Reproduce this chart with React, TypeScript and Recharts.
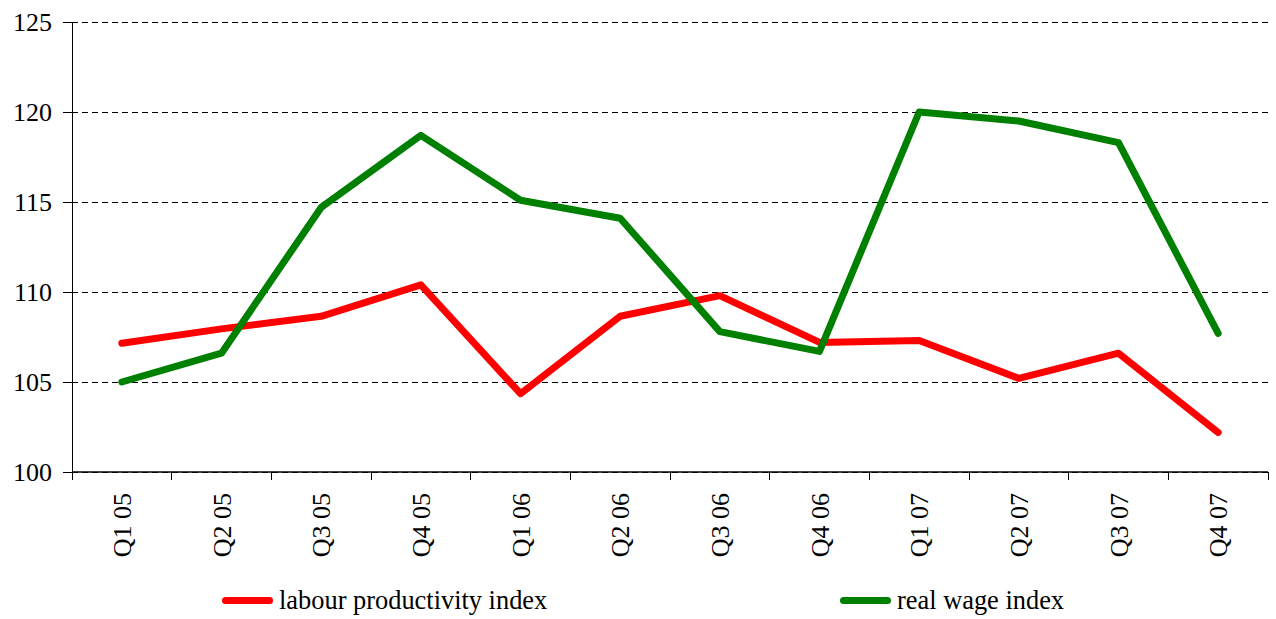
import { LineChart, Line, XAxis, YAxis, CartesianGrid, Legend } from "recharts";

const quarters = ["Q1 05", "Q2 05", "Q3 05", "Q4 05", "Q1 06", "Q2 06", "Q3 06", "Q4 06", "Q1 07", "Q2 07", "Q3 07", "Q4 07"];
const productivity = [107.15, 107.95, 108.65, 110.4, 104.35, 108.65, 109.8, 107.2, 107.3, 105.2, 106.6, 102.2];
const realWage = [105.0, 106.6, 114.7, 118.7, 115.1, 114.1, 107.8, 106.7, 120.0, 119.5, 118.3, 107.7];
const yTicks = [100, 105, 110, 115, 120, 125];

const data = quarters.map((q, i) => ({ q, prod: productivity[i], wage: realWage[i] }));

const FONT = '"Liberation Serif", "Times New Roman", serif';
const W = 1276;
const H = 619;
const BAND = (W - 72 - 8) / quarters.length;

function QuarterTick({ x, y, payload, index }: any) {
  return (
    <g>
      {index === 0 && <line x1={x - BAND / 2} x2={x - BAND / 2} y1={y} y2={y + 8} stroke="#000" shapeRendering="crispEdges" />}
      <line x1={x + BAND / 2} x2={x + BAND / 2} y1={y} y2={y + 8} stroke="#000" shapeRendering="crispEdges" />
      <text
        x={x}
        y={y + 21}
        dy="0.35em"
        textAnchor="end"
        transform={`rotate(-90, ${x}, ${y + 21})`}
        fill="#000"
        fontSize={26}
        fontFamily={FONT}
      >
        {payload.value}
      </text>
    </g>
  );
}

function ChartLegend() {
  const item = (left: number, color: string, label: string) => (
    <div style={{ position: "absolute", left, top: 25, display: "flex", alignItems: "center" }}>
      <div style={{ width: 51, height: 7, borderRadius: 4, background: color, marginRight: 6 }} />
      <span style={{ fontSize: 26.4, fontFamily: FONT, color: "#000", lineHeight: "26px" }}>{label}</span>
    </div>
  );
  return (
    <div style={{ position: "relative", width: W, height: 57 }}>
      {item(222, "#ff0000", "labour productivity index")}
      {item(840, "#008000", "real wage index")}
    </div>
  );
}

export default function App() {
  return (
    <div style={{ position: "fixed", left: 0, top: 0, background: "#fff" }}>
      <LineChart width={W} height={H} data={data} margin={{ top: 22, right: 8, left: 0, bottom: 0 }} style={{ fontFamily: FONT }}>
        <CartesianGrid horizontal vertical={false} stroke="#000" strokeDasharray="6 4" shapeRendering="crispEdges" />
        <XAxis
          dataKey="q"
          scale="band"
          height={90}
          interval={0}
          tickLine={false}
          tickSize={0}
          tickMargin={0}
          axisLine={{ stroke: "#000", strokeWidth: 1.5 }}
          tick={<QuarterTick />}
        />
        <YAxis
          width={72}
          domain={[100, 125]}
          ticks={yTicks}
          interval={0}
          tickSize={9}
          tickMargin={11}
          tickLine={{ stroke: "#000", shapeRendering: "crispEdges" }}
          axisLine={{ stroke: "#000", shapeRendering: "crispEdges" }}
          tick={{ fill: "#000", fontSize: 26, fontFamily: FONT }}
        />
        <Legend verticalAlign="bottom" content={<ChartLegend />} wrapperStyle={{ left: 0, width: W }} />
        <Line type="linear" dataKey="prod" stroke="#ff0000" strokeWidth={7} strokeLinecap="round" strokeLinejoin="round" dot={false} isAnimationActive={false} />
        <Line type="linear" dataKey="wage" stroke="#008000" strokeWidth={7} strokeLinecap="round" strokeLinejoin="round" dot={false} isAnimationActive={false} />
      </LineChart>
    </div>
  );
}
